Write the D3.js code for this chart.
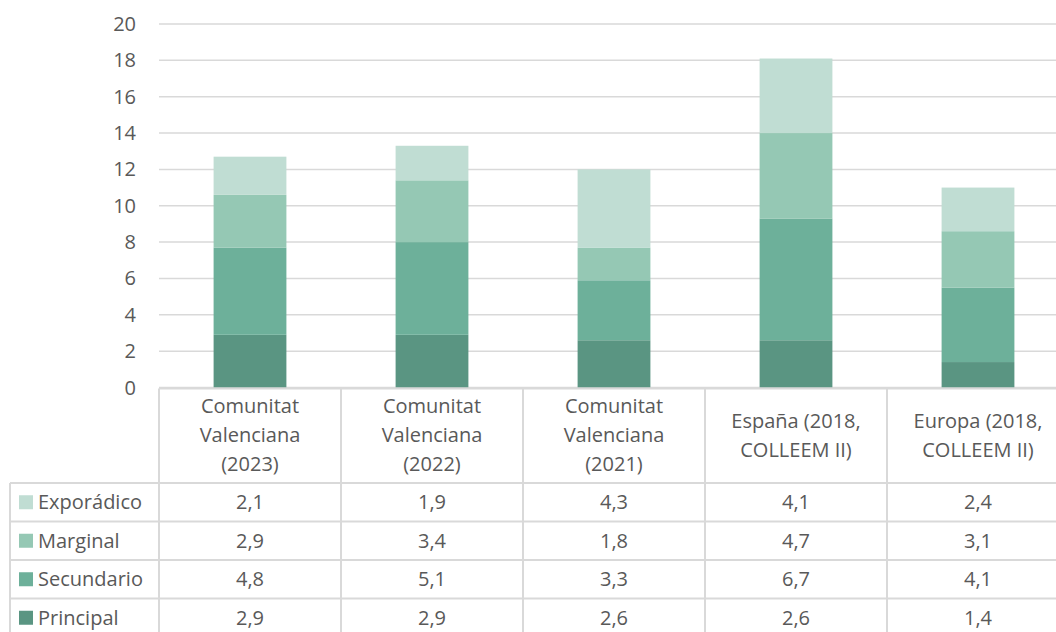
<!DOCTYPE html>
<html>
<head>
<meta charset="utf-8">
<script src="https://cdn.jsdelivr.net/npm/d3@7"></script>
<style>
  body { margin: 0; background: #fff; }
  svg { display: block; font-family: "Open Sans", sans-serif; }
</style>
</head>
<body>
<svg width="1056" height="632"></svg>
<script>
const categories = [
    'Comunitat Valenciana (2023)',
    'Comunitat Valenciana (2022)',
    'Comunitat Valenciana (2021)',
    'España (2018, COLLEEM II)',
    'Europa (2018, COLLEEM II)',
];
const categoryLines = [
    ['Comunitat', 'Valenciana', '(2023)'],
    ['Comunitat', 'Valenciana', '(2022)'],
    ['Comunitat', 'Valenciana', '(2021)'],
    ['España (2018,', 'COLLEEM II)'],
    ['Europa (2018,', 'COLLEEM II)'],
];

const seriesNames = ['Principal', 'Secundario', 'Marginal', 'Exporádico'];
const principal = [2.9, 2.9, 2.6, 2.6, 1.4];
const secundario = [4.8, 5.1, 3.3, 6.7, 4.1];
const marginal = [2.9, 3.4, 1.8, 4.7, 3.1];
const exporadico = [2.1, 1.9, 4.3, 4.1, 2.4];
const yTicks = [0, 2, 4, 6, 8, 10, 12, 14, 16, 18, 20];

const colors = ['#5a9582', '#6db09a', '#95c8b4', '#c0ddd3'];
const gridColor = '#d9d9d9';
const textColor = '#595959';

const svg = d3.select('svg');

const plotLeft = 159;
const colWidth = 182;
const plotTop = 24;
const baseY = 387.5;
const headerBottom = 483;
const rowHeight = 38.5;
const legendLeft = 10;

const table = categories.map((c, i) => ({
    cat: c,
    Principal: principal[i],
    Secundario: secundario[i],
    Marginal: marginal[i],
    'Exporádico': exporadico[i],
}));

const xScale = d3.scaleBand()
    .domain(categories)
    .range([plotLeft, plotLeft + colWidth * categories.length])
    .padding(0);

const yScale = d3.scaleLinear()
    .domain([0, 20])
    .range([baseY, plotTop]);

const barWidth = xScale.bandwidth() / 2.5;

// gridlines
svg.append('g')
    .selectAll('line')
    .data(yTicks)
    .join('line')
    .attr('x1', plotLeft)
    .attr('x2', 1070)
    .attr('y1', d => yScale(d))
    .attr('y2', d => yScale(d))
    .attr('stroke', gridColor)
    .attr('stroke-width', 1.5);

// y labels
svg.append('g')
    .selectAll('text')
    .data(yTicks)
    .join('text')
    .attr('x', 136)
    .attr('y', d => yScale(d))
    .attr('dy', '0.35em')
    .attr('text-anchor', 'end')
    .attr('fill', textColor)
    .style('font-size', '20px')
    .text(d => d);

// stacked bars
const stacked = d3.stack().keys(seriesNames)(table);

svg.append('g')
    .selectAll('g')
    .data(stacked)
    .join('g')
    .attr('fill', (d, i) => colors[i])
    .selectAll('rect')
    .data(d => d)
    .join('rect')
    .attr('x', d => xScale(d.data.cat) + (xScale.bandwidth() - barWidth) / 2)
    .attr('width', barWidth)
    .attr('y', d => yScale(d[1]))
    .attr('height', d => yScale(d[0]) - yScale(d[1]));

// data table
const fmt = d3.formatLocale({decimal: ',', thousands: '.', grouping: [3], currency: ['', '€']}).format('.1f');
const rowOrder = seriesNames.slice().reverse();
const tableRight = xScale.range()[1];
const tableBottom = headerBottom + rowHeight * rowOrder.length;

const grid = svg.append('g')
    .attr('stroke', gridColor)
    .attr('stroke-width', 2);

grid.append('line')
    .attr('x1', plotLeft).attr('x2', tableRight)
    .attr('y1', baseY + 1).attr('y2', baseY + 1);

grid.selectAll('.hline')
    .data(d3.range(rowOrder.length + 1))
    .join('line')
    .attr('class', 'hline')
    .attr('x1', legendLeft).attr('x2', tableRight)
    .attr('y1', i => headerBottom + i * rowHeight)
    .attr('y2', i => headerBottom + i * rowHeight);

grid.selectAll('.vline')
    .data(categories)
    .join('line')
    .attr('class', 'vline')
    .attr('x1', d => xScale(d)).attr('x2', d => xScale(d))
    .attr('y1', baseY + 1).attr('y2', tableBottom);

grid.append('line')
    .attr('x1', tableRight).attr('x2', tableRight)
    .attr('y1', baseY + 1).attr('y2', tableBottom);

grid.append('line')
    .attr('x1', legendLeft).attr('x2', legendLeft)
    .attr('y1', headerBottom).attr('y2', tableBottom);

// header labels
const headerMid = (baseY + headerBottom) / 2;
const lineGap = 29;
svg.append('g')
    .selectAll('text')
    .data(categories)
    .join('text')
    .attr('text-anchor', 'middle')
    .attr('fill', textColor)
    .style('font-size', '20px')
    .each(function(d, i) {
        const lines = categoryLines[i];
        const y0 = headerMid - (lines.length - 1) * lineGap / 2;
        d3.select(this).selectAll('tspan')
            .data(lines)
            .join('tspan')
            .attr('x', xScale(d) + xScale.bandwidth() / 2)
            .attr('y', (t, j) => y0 + j * lineGap)
            .attr('dy', '0.35em')
            .text(t => t);
    });

// rows
const rows = svg.append('g')
    .selectAll('g')
    .data(rowOrder)
    .join('g')
    .attr('transform', (d, i) => `translate(0, ${headerBottom + i * rowHeight + rowHeight / 2})`);

rows.append('rect')
    .attr('x', 19)
    .attr('y', -7)
    .attr('width', 14)
    .attr('height', 14)
    .attr('fill', d => colors[seriesNames.indexOf(d)]);

rows.append('text')
    .attr('x', 38)
    .attr('dy', '0.35em')
    .attr('fill', textColor)
    .style('font-size', '20px')
    .text(d => d);

rows.selectAll('.val')
    .data(s => table.map(r => ({cat: r.cat, v: r[s]})))
    .join('text')
    .attr('class', 'val')
    .attr('x', d => xScale(d.cat) + xScale.bandwidth() / 2)
    .attr('dy', '0.35em')
    .attr('text-anchor', 'middle')
    .attr('fill', textColor)
    .style('font-size', '20px')
    .text(d => fmt(d.v));
</script>
</body>
</html>
